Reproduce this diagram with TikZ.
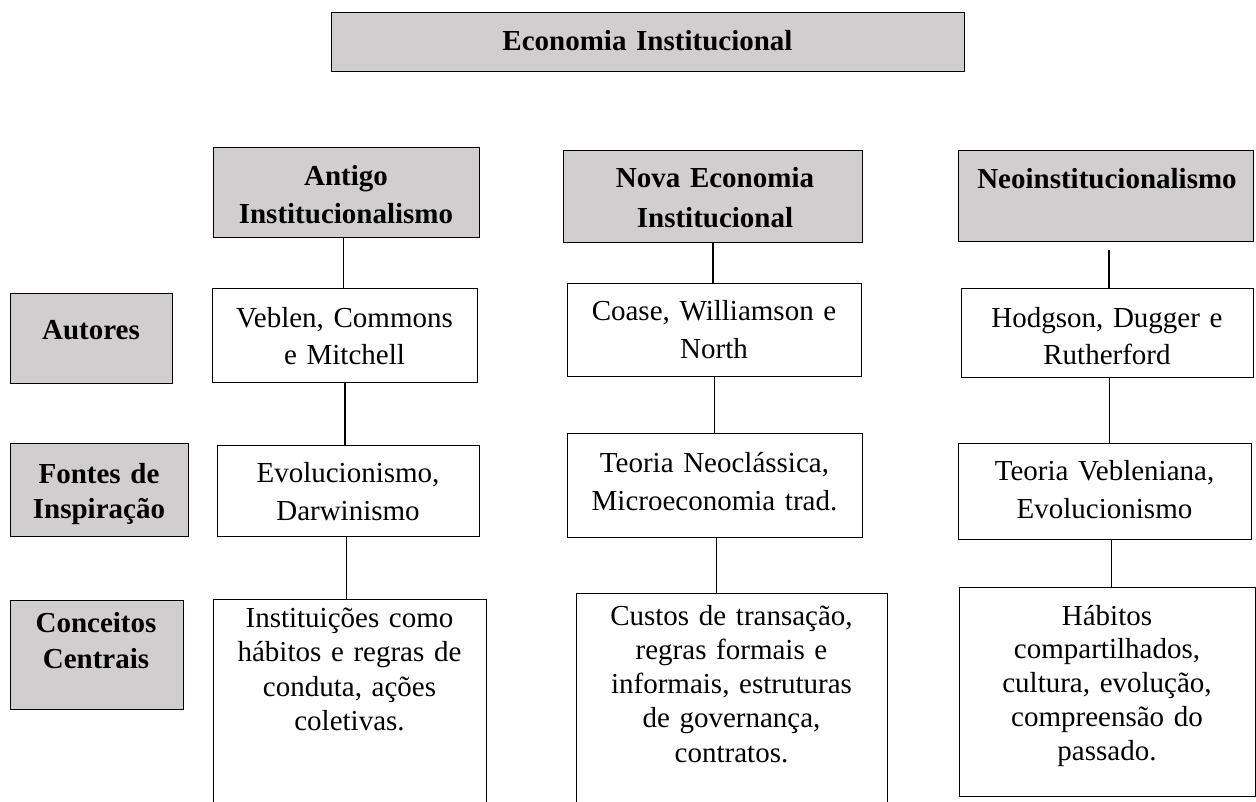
\documentclass[tikz,border=0pt]{standalone}
\usepackage{fontspec}
\setmainfont{Liberation Serif}
\definecolor{boxgrey}{RGB}{208,206,206}
\begin{document}
\begin{tikzpicture}[x=1pt,y=-1pt,
  gb/.style={draw, line width=1.1pt, fill=boxgrey, inner sep=0pt, anchor=north west},
  wb/.style={draw, line width=1.1pt, fill=white, inner sep=0pt, anchor=north west},
  tb/.style={font=\bfseries\fontsize{29}{#1}\selectfont, text width=300pt, align=center, inner sep=0pt, anchor=base},
  tb/.default=38,
  tr/.style={font=\fontsize{29}{#1}\selectfont, text width=320pt, align=center, inner sep=0pt, anchor=base},
  tr/.default=37,
  ln/.style={line width=1.4pt}]
\useasboundingbox (0,0) rectangle (1256,801);
\clip (0,0) rectangle (1256,801);
\fill[white] (0,0) rectangle (1256,801);

% title
\node[gb, minimum width=633pt, minimum height=59pt] (title) at (331,12) {};
\node[tb] (titlet) at (647.5,50) {Economia Institucional};

% column headers
\node[gb, minimum width=266pt, minimum height=90pt] (h1) at (213,147) {};
\node[tb] (h1t) at (346,185) {Antigo\\Institucionalismo};
\node[gb, minimum width=299pt, minimum height=92pt] (h2) at (563,150) {};
\node[tb=40] (h2t) at (715,187) {Nova Economia\\Institucional};
\node[gb, minimum width=295pt, minimum height=91pt] (h3) at (958,150) {};
\node[tb] (h3t) at (1107,188) {Neoinstitucionalismo};

% row labels
\node[gb, minimum width=162pt, minimum height=90pt] (l1) at (10,293) {};
\node[tb] (l1t) at (91,339) {Autores};
\node[gb, minimum width=178pt, minimum height=93pt] (l2) at (10,443) {};
\node[tb=35] (l2t) at (99,483) {Fontes de\\Inspiração};
\node[gb, minimum width=173pt, minimum height=109pt] (l3) at (10,600) {};
\node[tb=36] (l3t) at (96,632) {Conceitos\\Centrais};

% row 1
\node[wb, minimum width=265pt, minimum height=94pt] (a1) at (212,288) {};
\node[tr=37] (a1t) at (344.5,327) {Veblen, Commons\\e Mitchell};
\node[wb, minimum width=294pt, minimum height=93pt] (b1) at (567,283) {};
\node[tr=38] (b1t) at (714,320) {Coase, Williamson e\\North};
\node[wb, minimum width=292pt, minimum height=89pt] (c1) at (961,288) {};
\node[tr=37] (c1t) at (1107,327) {Hodgson, Dugger e\\Rutherford};

% row 2
\node[wb, minimum width=262pt, minimum height=91pt] (a2) at (217,445) {};
\node[tr=38] (a2t) at (348,482) {Evolucionismo,\\Darwinismo};
\node[wb, minimum width=295pt, minimum height=104pt] (b2) at (567,433) {};
\node[tr=38] (b2t) at (714.5,472) {Teoria Neoclássica,\\Microeconomia trad.};
\node[wb, minimum width=293pt, minimum height=96pt] (c2) at (958,443) {};
\node[tr=38] (c2t) at (1104.5,480) {Teoria Vebleniana,\\Evolucionismo};

% row 3
\node[wb, minimum width=273pt, minimum height=230pt] (a3) at (213,599) {};
\node[tr=34.5] (a3t) at (349.5,627) {Instituições como\\hábitos e regras de\\conduta, ações\\coletivas.};
\node[wb, minimum width=311pt, minimum height=236pt] (b3) at (576,593) {};
\node[tr=34.3] (b3t) at (731.5,625) {Custos de transação,\\regras formais e\\informais, estruturas\\de governança,\\contratos.};
\node[wb, minimum width=296pt, minimum height=209pt] (c3) at (959,587) {};
\node[tr=33.8] (c3t) at (1107,625) {Hábitos\\compartilhados,\\cultura, evolução,\\compreensão do\\passado.};

% connectors
\draw[ln] ([xshift=-3pt]h1.south) -- ([xshift=-3pt]h1.south |- a1.north);
\draw[ln] (a1.south) -- (a1.south |- a2.north);
\draw[ln] ([xshift=-2pt]a2.south) -- ([xshift=-2pt]a2.south |- a3.north);
\draw[ln] (h2.south) -- (h2.south |- b1.north);
\draw[ln] (b1.south) -- (b1.south |- b2.north);
\draw[ln] ([xshift=1.5pt]b2.south) -- ([xshift=1.5pt]b2.south |- b3.north);
\draw[ln] ([xshift=3pt,yshift=-8pt]h3.south) -- ([xshift=3pt]h3.south |- c1.north);
\draw[ln] ([xshift=2pt]c1.south) -- ([xshift=2pt]c1.south |- c2.north);
\draw[ln] ([xshift=6.5pt]c2.south) -- ([xshift=6.5pt]c2.south |- c3.north);
\end{tikzpicture}
\end{document}
